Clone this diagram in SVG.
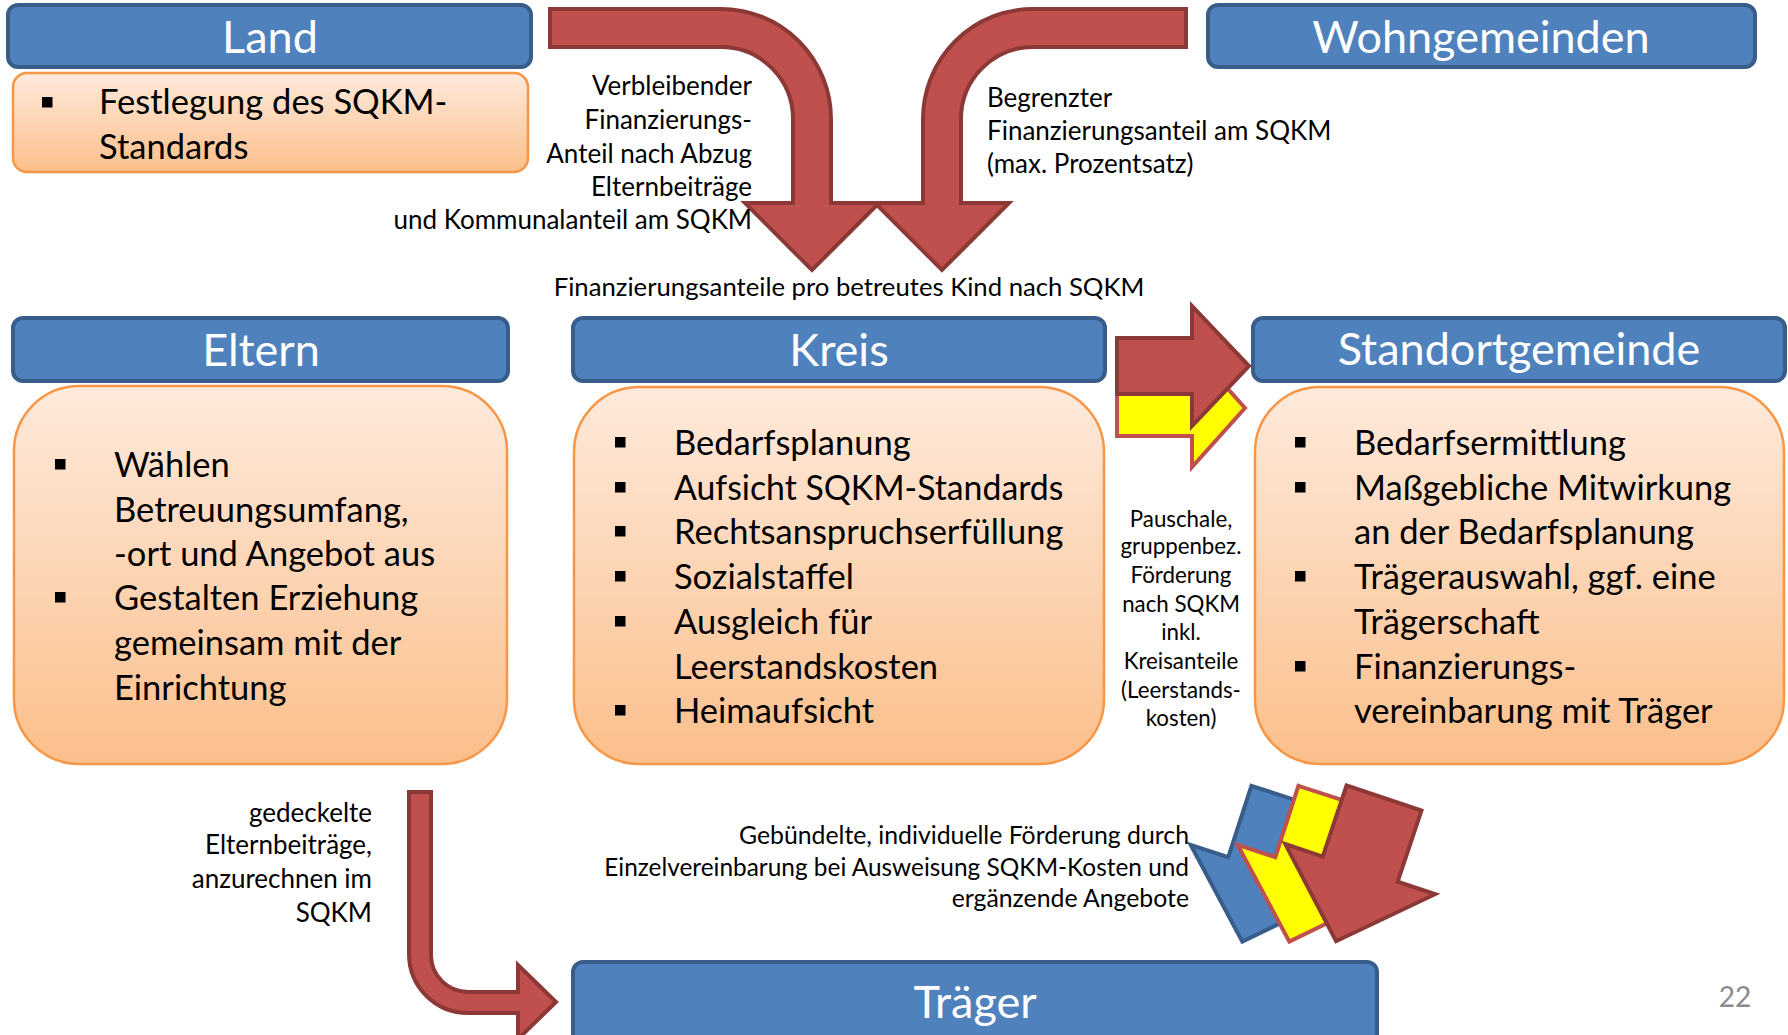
<svg xmlns="http://www.w3.org/2000/svg" width="1788" height="1035" viewBox="0 0 1788 1035">
<defs>
<linearGradient id="og" x1="0" y1="0" x2="0" y2="1">
<stop offset="0" stop-color="#FEEADC"/>
<stop offset="1" stop-color="#FBBF8B"/>
</linearGradient>
<rect id="bul" width="10.5" height="10.5" fill="#000"/>
<path id="da" d="M-39.5,0 L39.5,0 L39.5,75 L79,75 L0,151 L-79,75 L-39.5,75 Z"/>
<style>
text{font-family:Lato,'Open Sans','Liberation Sans',sans-serif}
.hdr{fill:#4F81BD;stroke:#385D8A;stroke-width:4}
.bdy{fill:url(#og);stroke:#F79646;stroke-width:2.5}
.ht{font-size:45px;fill:#fff;text-anchor:middle}
.bt{font-size:34.5px;fill:#000}
.lt{font-size:26px;fill:#000}
.lb{font-size:24.8px;fill:#000;text-anchor:end}
.st{font-size:22.3px;fill:#000;text-anchor:middle}
.end{text-anchor:end}
.mid{text-anchor:middle}
.red{fill:#C0504D;stroke:#8C3836;stroke-width:4}
.yel{fill:#FFFF00;stroke:#C0504D;stroke-width:4}
.blu{fill:#4F81BD;stroke:#385D8A;stroke-width:4}
</style>
</defs>
<rect width="1788" height="1035" fill="#fff"/>

<g id="land">
<rect class="hdr" x="8" y="5" width="523" height="62" rx="10"/>
<text class="ht" x="270" y="53">Land</text>
<rect class="bdy" x="13" y="73" width="515" height="99" rx="14"/>
<use href="#bul" x="42" y="97"/>
<text class="bt" x="99" y="114">Festlegung des SQKM-</text>
<text class="bt" x="99" y="159">Standards</text>
</g>

<g id="wohngemeinden">
<rect class="hdr" x="1208" y="5" width="547" height="62" rx="10"/>
<text class="ht" x="1481" y="53">Wohngemeinden</text>
</g>

<g id="eltern">
<rect class="hdr" x="13" y="318" width="495" height="63" rx="10"/>
<text class="ht" x="261" y="366">Eltern</text>
<rect class="bdy" x="14" y="386" width="493" height="378" rx="65"/>
<use href="#bul" x="55" y="459"/>
<use href="#bul" x="55" y="592"/>
<text class="bt" x="114" y="477">Wählen</text>
<text class="bt" x="114" y="522">Betreuungsumfang,</text>
<text class="bt" x="114" y="566">-ort und Angebot aus</text>
<text class="bt" x="114" y="610">Gestalten Erziehung</text>
<text class="bt" x="114" y="655">gemeinsam mit der</text>
<text class="bt" x="114" y="700">Einrichtung</text>
</g>

<g id="kreis">
<rect class="hdr" x="573" y="318" width="532" height="63" rx="10"/>
<text class="ht" x="839" y="366">Kreis</text>
<rect class="bdy" x="574" y="387" width="530" height="377" rx="65"/>
<use href="#bul" x="615" y="437"/>
<use href="#bul" x="615" y="482"/>
<use href="#bul" x="615" y="526"/>
<use href="#bul" x="615" y="571"/>
<use href="#bul" x="615" y="616"/>
<use href="#bul" x="615" y="705"/>
<text class="bt" x="674" y="455">Bedarfsplanung</text>
<text class="bt" x="674" y="500" style="font-size:33.8px">Aufsicht SQKM-Standards</text>
<text class="bt" x="674" y="544">Rechtsanspruchserfüllung</text>
<text class="bt" x="674" y="589">Sozialstaffel</text>
<text class="bt" x="674" y="634">Ausgleich für</text>
<text class="bt" x="674" y="679">Leerstandskosten</text>
<text class="bt" x="674" y="723">Heimaufsicht</text>
</g>

<g id="standortgemeinde">
<rect class="hdr" x="1253" y="318" width="532" height="63" rx="10"/>
<text class="ht" x="1519" y="365">Standortgemeinde</text>
<rect class="bdy" x="1255" y="387" width="529" height="377" rx="65"/>
<use href="#bul" x="1295" y="437"/>
<use href="#bul" x="1295" y="482"/>
<use href="#bul" x="1295" y="571"/>
<use href="#bul" x="1295" y="661"/>
<text class="bt" x="1354" y="455">Bedarfsermittlung</text>
<text class="bt" x="1354" y="500">Maßgebliche Mitwirkung</text>
<text class="bt" x="1354" y="544">an der Bedarfsplanung</text>
<text class="bt" x="1354" y="589">Trägerauswahl, ggf. eine</text>
<text class="bt" x="1354" y="634">Trägerschaft</text>
<text class="bt" x="1354" y="679">Finanzierungs-</text>
<text class="bt" x="1354" y="723">vereinbarung mit Träger</text>
</g>

<g id="traeger">
<rect class="hdr" x="573" y="962" width="804" height="95" rx="10"/>
<text class="ht" x="975" y="1018">Träger</text>
</g>

<g id="connectors">
<path class="red" d="M550,9 L721,9 A110,110 0 0 1 831,119 L831,203 L879,203 L812,270 L745,203 L793,203 L793,119 A72,72 0 0 0 721,47 L550,47 Z"/>
<path class="red" d="M1186,9 L1033,9 A110,110 0 0 0 923,119 L923,203 L875,203 L942,270 L1009,203 L961,203 L961,119 A72,72 0 0 1 1033,47 L1186,47 Z"/>
<path class="yel" d="M1117,380 L1192,380 L1192,349 L1245,408 L1192,467 L1192,436 L1117,436 Z"/>
<path class="red" d="M1117,338 L1192,338 L1192,306 L1249,366 L1192,426 L1192,394 L1117,394 Z"/>
<use href="#da" class="blu" transform="translate(1289,798) rotate(18)"/>
<use href="#da" class="yel" transform="translate(1336,798) rotate(18)"/>
<use href="#da" class="red" transform="translate(1384,798) rotate(18.5)"/>
<path class="red" d="M409,792 L431,792 L431,955 A37,37 0 0 0 468,992 L518,992 L518,965 L556,1002 L518,1039 L518,1013 L468,1013 A59,59 0 0 1 409,954 Z"/>
</g>

<g id="labels">
<text class="lt end" x="752" y="95">Verbleibender</text>
<text class="lt end" x="752" y="129">Finanzierungs-</text>
<text class="lt end" x="752" y="163">Anteil nach Abzug</text>
<text class="lt end" x="752" y="196">Elternbeiträge</text>
<text class="lt end" x="752" y="229">und Kommunalanteil am SQKM</text>
<text class="lt" x="987" y="107">Begrenzter</text>
<text class="lt" x="987" y="140">Finanzierungsanteil am SQKM</text>
<text class="lt" x="987" y="173">(max. Prozentsatz)</text>
<text class="lt mid" x="849" y="296" style="font-size:25.7px">Finanzierungsanteile pro betreutes Kind nach SQKM</text>
<text class="st" x="1181" y="527">Pauschale,</text>
<text class="st" x="1181" y="554">gruppenbez.</text>
<text class="st" x="1181" y="583">Förderung</text>
<text class="st" x="1181" y="612">nach SQKM</text>
<text class="st" x="1181" y="640">inkl.</text>
<text class="st" x="1181" y="669">Kreisanteile</text>
<text class="st" x="1181" y="698">(Leerstands-</text>
<text class="st" x="1181" y="726">kosten)</text>
<text class="lt end" x="372" y="822">gedeckelte</text>
<text class="lt end" x="372" y="854">Elternbeiträge,</text>
<text class="lt end" x="372" y="888">anzurechnen im</text>
<text class="lt end" x="372" y="922">SQKM</text>
<text class="lb" x="1189" y="844">Gebündelte, individuelle Förderung durch</text>
<text class="lb" x="1189" y="876" style="font-size:24.4px">Einzelvereinbarung bei Ausweisung SQKM-Kosten und</text>
<text class="lb" x="1189" y="907">ergänzende Angebote</text>
<text x="1735" y="1007" font-size="28" fill="#8B8B8B" text-anchor="middle">22</text>
</g>
</svg>
